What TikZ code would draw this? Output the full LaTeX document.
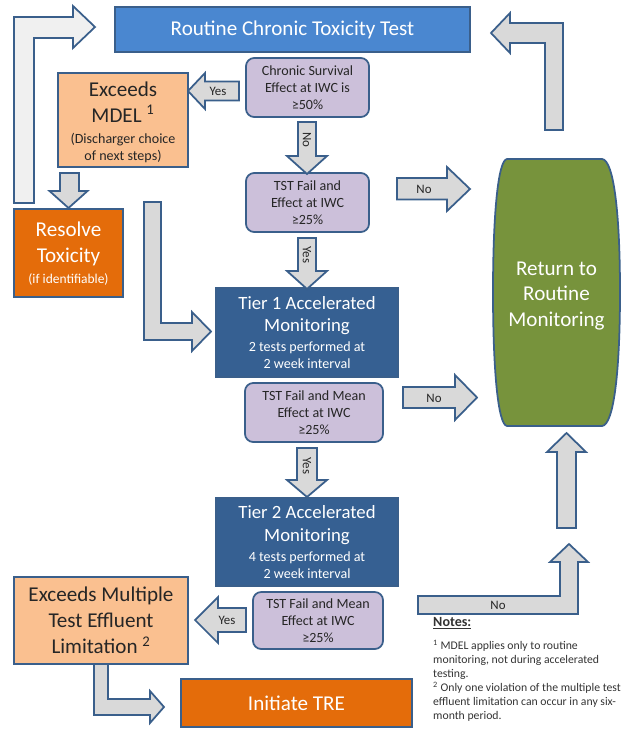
\documentclass[tikz,border=0pt]{standalone}
\usepackage{fontspec}
\setmainfont{Carlito}
\usepackage{xcolor}
\newcommand{\subtext}{\fontsize{12}{14.6}\selectfont}
\definecolor{edgeblue}{HTML}{3A5F8B}
\definecolor{testblue}{HTML}{4A87D0}
\definecolor{tierblue}{HTML}{366092}
\definecolor{critlilac}{HTML}{CCC0DA}
\definecolor{peach}{HTML}{FAC090}
\definecolor{toxorange}{HTML}{E46C0A}
\definecolor{routgreen}{HTML}{77933C}
\definecolor{arrowgray}{HTML}{D9D9D9}

\begin{document}
\begin{tikzpicture}[
    x=0.03cm,y=-0.03cm,
    box/.style={rectangle,draw=edgeblue,line width=1.5pt,inner sep=0pt,align=center},
    test/.style={box,fill=testblue,text=white,font=\fontsize{18}{22}\selectfont},
    crit/.style={box,rounded corners=7pt,fill=critlilac,text=black!85,font=\subtext},
    tier/.style={box,fill=tierblue,text=white,font=\fontsize{16}{19.5}\selectfont},
    exceed/.style={box,fill=peach,text=black!85,font=\fontsize{18}{22}\selectfont},
    action/.style={box,fill=toxorange,text=white,font=\fontsize{18}{22}\selectfont},
    barrow/.style={draw=edgeblue,line width=1.5pt,fill=arrowgray,line join=miter},
    lbl/.style={font=\fontsize{11}{13}\selectfont,text=black!85,inner sep=0pt},
    notes/.style={align=left,inner sep=0pt,text=black!80,font=\fontsize{10}{11.9}\selectfont}
  ]
  \useasboundingbox (0,0) rectangle (627,729);

  % Boxes
  \node[test,minimum width=10.65cm,minimum height=1.35cm] (routine) at (292.5,29.5) {Routine Chronic Toxicity Test};
  \node[crit,minimum width=3.69cm,minimum height=1.77cm] (chronic) at (307.5,87.5) {Chronic Survival\\Effect at IWC is\\≥50\%};
  \node[exceed,minimum width=3.9cm,minimum height=2.82cm] (mdel) at (123,120) {\\[-6pt]Exceeds\\MDEL \textsuperscript{1}\\[-4pt]\subtext (Discharger choice\\[-7.5pt]\subtext of next steps)};
  \node[action,minimum width=3.27cm,minimum height=2.64cm] (resolve) at (68.5,253) {\\[-8pt]Resolve\\Toxicity\\[-4pt]\fontsize{11.5}{14}\selectfont (if identifiable)};
  \node[crit,minimum width=3.69cm,minimum height=1.77cm] (tstfail) at (307.5,202.5) {TST Fail and\\Effect at IWC\\≥25\%};
  \node[tier,minimum width=5.46cm,minimum height=2.67cm] (tier1) at (307,332.5) {Tier 1 Accelerated\\Monitoring\\[-2.5pt]\subtext 2 tests performed at\\[-5pt]\subtext 2 week interval};
  \node[crit,minimum width=4.14cm,minimum height=1.77cm] (tier1crit) at (314,412.5) {TST Fail and Mean\\Effect at IWC\\≥25\%};
  \node[tier,minimum width=5.46cm,minimum height=2.64cm] (tier2) at (307,542) {Tier 2 Accelerated\\Monitoring\\[-2.5pt]\subtext 4 tests performed at\\[-5pt]\subtext 2 week interval};
  \node[crit,minimum width=3.9cm,minimum height=1.71cm] (tier2crit) at (318,620.5) {TST Fail and Mean\\Effect at IWC\\≥25\%};
  \node[exceed,minimum width=5.22cm,minimum height=2.61cm] (multiple) at (101,620.5) {Exceeds Multiple\\Test Effluent\\Limitation \textsuperscript{2}};
  \node[action,minimum width=6.93cm,minimum height=1.44cm] (tre) at (296.5,703) {Initiate TRE};

  % Return to routine monitoring
  \draw[draw=edgeblue,line width=1.5pt,fill=routgreen] (507,159) -- (602,159)
    .. controls (614,160) and (620,215) .. (620,292)
    .. controls (620,370) and (614,425) .. (602,426) -- (507,426)
    .. controls (498,425) and (493,370) .. (493,292)
    .. controls (493,215) and (498,160) .. (507,159) -- cycle;
  \node[align=center,text=white,font=\fontsize{18}{22}\selectfont] (return) at (556.5,296) {Return to\\Routine\\Monitoring};

  % Block arrows
  \draw[barrow,fill=gray!12] (14,203) -- (14,17) -- (73,17) -- (73,6) -- (95,27) -- (73,48) -- (73,38) -- (34,38) -- (34,203) -- cycle;
  \draw[barrow] (545,130) -- (545,43) -- (510,43) -- (510,53) -- (491,33) -- (510,13) -- (510,23) -- (563,23) -- (563,130) -- cycle;
  \draw[barrow] (239,81.5) -- (205,81.5) -- (205,73) -- (188,91) -- (205,109) -- (205,100.5) -- (239,100.5) -- cycle;
  \node[lbl] (yesmdel) at (218,91) {Yes};
  \draw[barrow] (60,173) -- (79,173) -- (79,191) -- (87.5,191) -- (68.5,208) -- (49.5,191) -- (60,191) -- cycle;
  \draw[barrow] (298,122) -- (316,122) -- (316,156) -- (327,156) -- (307,174) -- (287,156) -- (298,156) -- cycle;
  \node[lbl,rotate=-90] (nochronic) at (307,140) {No};
  \draw[barrow] (397,178) -- (447,178) -- (447,167) -- (470,189) -- (447,211) -- (447,199.5) -- (397,199.5) -- cycle;
  \node[lbl] (notstfail) at (424,189) {No};
  \draw[barrow] (298,238) -- (316,238) -- (316,271) -- (327,271) -- (307,289) -- (287,271) -- (298,271) -- cycle;
  \node[lbl,rotate=-90] (yeststfail) at (307,255) {Yes};
  \draw[barrow] (144,202) -- (161,202) -- (161,323) -- (192,323) -- (192,312) -- (211,331.5) -- (192,351) -- (192,340) -- (144,340) -- cycle;
  \draw[barrow] (403,387) -- (455,387) -- (455,375) -- (477,397.5) -- (455,420) -- (455,408) -- (403,408) -- cycle;
  \node[lbl] (notier1) at (434,398) {No};
  \draw[barrow] (297,448) -- (317,448) -- (317,480) -- (327,480) -- (307,497) -- (287,480) -- (297,480) -- cycle;
  \node[lbl,rotate=-90] (yestier1) at (307,466) {Yes};
  \draw[barrow] (557,528) -- (557,452) -- (547,452) -- (566.5,433) -- (586,452) -- (576,452) -- (576,528) -- cycle;
  \draw[barrow] (418,596) -- (560,596) -- (560,562) -- (550,562) -- (569,544) -- (588,562) -- (578,562) -- (578,614) -- (418,614) -- cycle;
  \node[lbl] (notier2) at (498,605) {No};
  \draw[barrow] (246,608) -- (218,608) -- (218,597) -- (195,620) -- (218,643) -- (218,632) -- (246,632) -- cycle;
  \node[lbl] (yestier2) at (227,620) {Yes};
  \draw[barrow] (94,664) -- (108,664) -- (108,699) -- (150,699) -- (150,691) -- (164,707) -- (150,723) -- (150,715) -- (94,715) -- cycle;

  % Notes
  \node[notes,anchor=north west] (notenode) at (433,617) {{\fontsize{12}{14}\selectfont\textbf{\underline{Notes:}}}\\[8pt]
    \textsuperscript{1} MDEL applies only to routine\\
    monitoring, not during accelerated\\
    testing.\\
    \textsuperscript{2} Only one violation of the multiple test\\
    effluent limitation can occur in any six-\\
    month period.};
\end{tikzpicture}
\end{document}
